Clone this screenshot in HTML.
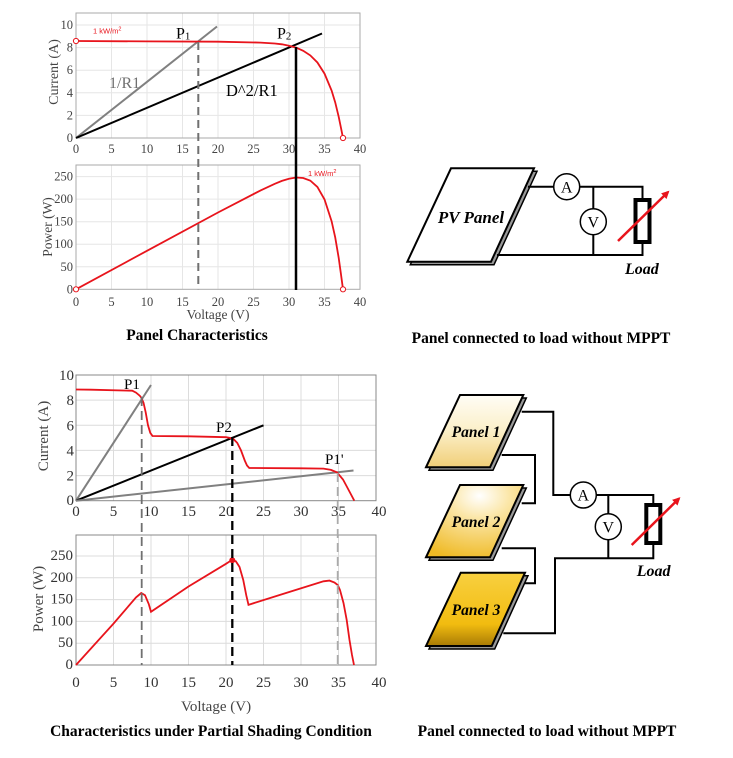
<!DOCTYPE html>
<html><head><meta charset="utf-8"><style>
html,body{margin:0;padding:0;background:#fff;}
svg{display:block;}
.t{font-family:"Liberation Serif",serif;}
</style></head><body>
<svg width="733" height="758" viewBox="0 0 733 758" xmlns="http://www.w3.org/2000/svg">
<defs>
<linearGradient id="g1" x1="0" y1="0" x2="0" y2="1"><stop offset="0" stop-color="#fffdf6"/><stop offset="0.5" stop-color="#fbefc8"/><stop offset="1" stop-color="#f1cf78"/></linearGradient>
<radialGradient id="g2" cx="0.55" cy="0.15" r="0.9"><stop offset="0" stop-color="#ffffff"/><stop offset="0.35" stop-color="#fbe6a6"/><stop offset="1" stop-color="#efba25"/></radialGradient>
<linearGradient id="g3" x1="0" y1="0" x2="0" y2="1"><stop offset="0" stop-color="#f8d040"/><stop offset="0.7" stop-color="#f2bc10"/><stop offset="1" stop-color="#a87a05"/></linearGradient>
<marker id="ah" markerWidth="8" markerHeight="8" refX="6" refY="4" orient="auto" markerUnits="userSpaceOnUse"><path d="M0,0 L8,4 L0,8 Z" fill="#e8141c"/></marker>
</defs>

<!-- ===== TOP CURRENT CHART ===== -->
<g stroke="#e6e6e6" stroke-width="1">
<path d="M111.5 13V138M147 13V138M182.5 13V138M218 13V138M253.5 13V138M289 13V138M324.5 13V138"/>
<path d="M76 115.4H360M76 92.8H360M76 70.2H360M76 47.6H360M76 25H360"/>
</g>
<rect x="76" y="13" width="284" height="125" fill="none" stroke="#aaa" stroke-width="1"/>
<g class="t" font-size="12.5" fill="#444" text-anchor="middle">
<text x="76" y="153">0</text><text x="111.5" y="153">5</text><text x="147" y="153">10</text><text x="182.5" y="153">15</text><text x="218" y="153">20</text><text x="253.5" y="153">25</text><text x="289" y="153">30</text><text x="324.5" y="153">35</text><text x="360" y="153">40</text>
</g>
<g class="t" font-size="12.5" fill="#444" text-anchor="end">
<text x="73" y="142">0</text><text x="73" y="119.4">2</text><text x="73" y="96.8">4</text><text x="73" y="74.2">6</text><text x="73" y="51.6">8</text><text x="73" y="29">10</text>
</g>
<text class="t" font-size="14" fill="#444" text-anchor="middle" transform="translate(58,72) rotate(-90)">Current (A)</text>
<line x1="76" y1="138" x2="217" y2="26.5" stroke="#808080" stroke-width="2"/>
<line x1="76" y1="138" x2="322" y2="33.5" stroke="#000" stroke-width="2"/>
<polyline fill="none" stroke="#e8141c" stroke-width="1.8" points="76,41 147,41.4 218,41.7 260.6,42.6 274.8,43.5 281.9,44.3 289,45.7 296.1,47.6 303.2,50.8 310.3,55.4 317.4,62.5 324.5,73.6 331.6,90.5 335.2,102.3 338.7,116.8 340.8,127 343,138"/>
<circle cx="76" cy="41" r="2.6" fill="#fff" stroke="#e8141c" stroke-width="1"/>
<circle cx="343" cy="138" r="2.6" fill="#fff" stroke="#e8141c" stroke-width="1"/>
<text x="93" y="33.5" font-family="Liberation Sans,sans-serif" font-size="7.5" fill="#e8141c">1 kW/m<tspan dy="-3" font-size="5.5">2</tspan></text>
<text class="t" x="176" y="38.5" font-size="16" fill="#000">P<tspan font-size="11" dy="1">1</tspan></text>
<text class="t" x="277" y="38.5" font-size="16" fill="#000">P<tspan font-size="11" dy="1">2</tspan></text>
<text class="t" x="109" y="88" font-size="16" fill="#707070">1/R1</text>
<text class="t" x="226" y="96" font-size="16.5" fill="#000">D^2/R1</text>

<!-- ===== TOP POWER CHART ===== -->
<g stroke="#e6e6e6" stroke-width="1">
<path d="M111.5 165V289.3M147 165V289.3M182.5 165V289.3M218 165V289.3M253.5 165V289.3M289 165V289.3M324.5 165V289.3"/>
<path d="M76 266.8H360M76 244.2H360M76 221.7H360M76 199.1H360M76 176.6H360"/>
</g>
<rect x="76" y="165" width="284" height="124.3" fill="none" stroke="#aaa" stroke-width="1"/>
<g class="t" font-size="12.5" fill="#444" text-anchor="middle">
<text x="76" y="306">0</text><text x="111.5" y="306">5</text><text x="147" y="306">10</text><text x="182.5" y="306">15</text><text x="218" y="306">20</text><text x="253.5" y="306">25</text><text x="289" y="306">30</text><text x="324.5" y="306">35</text><text x="360" y="306">40</text>
</g>
<g class="t" font-size="12.5" fill="#444" text-anchor="end">
<text x="73" y="293.3">0</text><text x="73" y="270.8">50</text><text x="73" y="248.2">100</text><text x="73" y="225.7">150</text><text x="73" y="203.1">200</text><text x="73" y="180.6">250</text>
</g>
<text class="t" font-size="13.5" fill="#444" text-anchor="middle" transform="translate(52,227) rotate(-90)">Power (W)</text>
<text class="t" font-size="13.5" fill="#444" text-anchor="middle" x="218" y="319">Voltage (V)</text>
<polyline fill="none" stroke="#e8141c" stroke-width="1.8" points="76,289.3 147,250.8 218,212.5 260.6,190.4 274.8,183.8 281.9,180.9 289,178.8 296.1,177.5 303.2,178 310.3,180.6 317.4,186.9 324.5,199.4 331.6,221.2 335.2,237.3 338.7,257.9 340.8,273 343,289.3"/>
<circle cx="76" cy="289.3" r="2.6" fill="#fff" stroke="#e8141c" stroke-width="1"/>
<circle cx="343" cy="289.3" r="2.6" fill="#fff" stroke="#e8141c" stroke-width="1"/>
<text x="308" y="176" font-family="Liberation Sans,sans-serif" font-size="7.5" fill="#e8141c">1 kW/m<tspan dy="-3" font-size="5.5">2</tspan></text>

<!-- verticals top -->
<line x1="198.3" y1="42" x2="198.3" y2="289.3" stroke="#707070" stroke-width="2" stroke-dasharray="8,5"/>
<line x1="296" y1="47" x2="296" y2="290" stroke="#000" stroke-width="2.5"/>

<text class="t" x="197" y="340" font-size="15.5" font-weight="bold" text-anchor="middle" fill="#000">Panel Characteristics</text>

<!-- ===== CIRCUIT 1 ===== -->
<path d="M454 171.3 L537 171.3 L494 264.7 L410.3 264.7 Z" fill="#999" stroke="#000" stroke-width="1.5"/>
<path d="M451 168.3 L534 168.3 L491 261.7 L407.3 261.7 Z" fill="#fff" stroke="#000" stroke-width="2"/>
<text class="t" x="471" y="223" font-size="17" font-weight="bold" font-style="italic" text-anchor="middle">PV Panel</text>
<g stroke="#000" stroke-width="2" fill="none">
<path d="M528 186.7 H553.7 M579.7 186.7 H642.5 V200"/>
<path d="M497 255 H642.5 V242"/>
<path d="M593.3 186.7 V208.7 M593.3 234.7 V255"/>
</g>
<circle cx="566.7" cy="186.7" r="13" fill="#fff" stroke="#000" stroke-width="1.5"/>
<circle cx="593.3" cy="221.7" r="13" fill="#fff" stroke="#000" stroke-width="1.5"/>
<text class="t" x="566.7" y="192.5" font-size="16" text-anchor="middle">A</text>
<text class="t" x="593.3" y="227.5" font-size="16" text-anchor="middle">V</text>
<rect x="635.5" y="200" width="14" height="42" fill="#fff" stroke="#000" stroke-width="4"/>
<line x1="618" y1="241" x2="668" y2="192" stroke="#e8141c" stroke-width="2.5" marker-end="url(#ah)"/>
<text class="t" x="625" y="274" font-size="16" font-weight="bold" font-style="italic">Load</text>
<text class="t" x="541" y="343" font-size="15.5" font-weight="bold" text-anchor="middle">Panel connected to load without MPPT</text>

<!-- ===== BOTTOM CURRENT CHART ===== -->
<g stroke="#dcdcdc" stroke-width="1">
<path d="M113.5 375V500.7M151 375V500.7M188.5 375V500.7M226 375V500.7M263.5 375V500.7M301 375V500.7M338.5 375V500.7"/>
<path d="M76 475.6H376M76 450.4H376M76 425.3H376M76 400.1H376"/>
</g>
<rect x="76" y="375" width="300" height="125.7" fill="none" stroke="#888" stroke-width="1"/>
<g class="t" font-size="15" fill="#333" text-anchor="middle">
<text x="76" y="516">0</text><text x="113.5" y="516">5</text><text x="151" y="516">10</text><text x="188.5" y="516">15</text><text x="226" y="516">20</text><text x="263.5" y="516">25</text><text x="301" y="516">30</text><text x="338.5" y="516">35</text><text x="379" y="516">40</text>
</g>
<g class="t" font-size="15" fill="#333" text-anchor="end">
<text x="74" y="505">0</text><text x="74" y="480.6">2</text><text x="74" y="455.4">4</text><text x="74" y="430.3">6</text><text x="74" y="405.1">8</text><text x="74" y="380">10</text>
</g>
<text class="t" font-size="15" fill="#444" text-anchor="middle" transform="translate(48,436) rotate(-90)">Current (A)</text>
<line x1="76" y1="500.7" x2="151" y2="385" stroke="#808080" stroke-width="2"/>
<line x1="76" y1="500.7" x2="263.5" y2="425.3" stroke="#000" stroke-width="2"/>
<line x1="76" y1="500.7" x2="353.5" y2="470.5" stroke="#808080" stroke-width="2"/>
<polyline fill="none" stroke="#e8141c" stroke-width="1.8" points="76,389.5 91,389.7 132.25,390.7 136,392.6 139.75,395.7 141.25,397.6 143.5,402.6 145.75,412.7 148,425.3 150.25,432.8 152.5,436 188.5,436.3 226,437.2 229.75,437.9 233.5,439.1 237.25,442.9 241,450.4 244.75,460.5 247,465.5 249.25,468 301,468.3 323.5,468.6 331,469.9 337,472.4 343,479.5 346.5,486 350.5,493.5 354.3,500.7"/>
<text class="t" x="124" y="389" font-size="15">P1</text>
<text class="t" x="216" y="432" font-size="15">P2</text>
<text class="t" x="325" y="464" font-size="15">P1'</text>

<!-- ===== BOTTOM POWER CHART ===== -->
<g stroke="#dcdcdc" stroke-width="1">
<path d="M113.5 535V665M151 535V665M188.5 535V665M226 535V665M263.5 535V665M301 535V665M338.5 535V665"/>
<path d="M76 643.2H376M76 621.4H376M76 599.6H376M76 577.8H376M76 556H376"/>
</g>
<rect x="76" y="535" width="300" height="130" fill="none" stroke="#888" stroke-width="1"/>
<g class="t" font-size="15" fill="#333" text-anchor="middle">
<text x="76" y="687">0</text><text x="113.5" y="687">5</text><text x="151" y="687">10</text><text x="188.5" y="687">15</text><text x="226" y="687">20</text><text x="263.5" y="687">25</text><text x="301" y="687">30</text><text x="338.5" y="687">35</text><text x="379" y="687">40</text>
</g>
<g class="t" font-size="15" fill="#333" text-anchor="end">
<text x="73" y="669">0</text><text x="73" y="647.2">50</text><text x="73" y="625.4">100</text><text x="73" y="603.6">150</text><text x="73" y="581.8">200</text><text x="73" y="560">250</text>
</g>
<text class="t" font-size="15" fill="#444" text-anchor="middle" transform="translate(43,599) rotate(-90)">Power (W)</text>
<text class="t" font-size="15" fill="#444" text-anchor="middle" x="216" y="711">Voltage (V)</text>
<polyline fill="none" stroke="#e8141c" stroke-width="1.8" points="76,665 113.5,623.6 136,597.4 141.25,593 145,595.2 148.75,604 151,611.8 188.5,586.5 226,563.8 231.25,560.4 235.75,561.2 239.5,566.9 243.25,580 246.25,595.2 248.5,604.8 286,593 323.5,581.3 329.5,580.6 334.5,582.5 337.7,585 340,590 343.5,603 346.7,620 349.5,640 352,655 354,665"/>
<circle cx="232.3" cy="560.3" r="3" fill="#e8141c"/>

<!-- verticals bottom -->
<line x1="141.7" y1="397" x2="141.7" y2="665" stroke="#707070" stroke-width="1.8" stroke-dasharray="9,5"/>
<line x1="232.3" y1="437" x2="232.3" y2="665" stroke="#000" stroke-width="2.3" stroke-dasharray="9,5"/>
<line x1="337.7" y1="473" x2="337.7" y2="665" stroke="#aaa" stroke-width="1.8" stroke-dasharray="9,5"/>

<text class="t" x="211" y="736" font-size="15.5" font-weight="bold" text-anchor="middle">Characteristics under Partial Shading Condition</text>

<!-- ===== CIRCUIT 2 ===== -->
<g stroke="#000" stroke-width="2" fill="none">
<path d="M521.7 411.7 H553.3 V495 H570.3 M596.3 495 H653.3 V505"/>
<path d="M608.3 495 V513.7 M608.3 539.7 V558.3"/>
<path d="M503.3 633.3 H555 V558.3 H653.3 V543"/>
<path d="M501.7 455 H535 V503.3 H521.7"/>
<path d="M501.7 548.3 H535 V583.3 H525"/>
</g>
<!-- panel 1 -->
<path d="M463 398 L526.3 398 L493 470.3 L429 470.3 Z" fill="#999" stroke="#000" stroke-width="1.5"/>
<path d="M460 395 L523.3 395 L490 467.3 L426 467.3 Z" fill="url(#g1)" stroke="#000" stroke-width="2"/>
<!-- panel 2 -->
<path d="M463 488 L526.3 488 L493 560.3 L429 560.3 Z" fill="#999" stroke="#000" stroke-width="1.5"/>
<path d="M460 485 L523.3 485 L490 557.3 L426 557.3 Z" fill="url(#g2)" stroke="#000" stroke-width="2"/>
<!-- panel 3 -->
<path d="M463.7 575.7 L528 575.7 L494.7 649 L429 649 Z" fill="#999" stroke="#000" stroke-width="1.5"/>
<path d="M460.7 572.7 L525 572.7 L491.7 646 L426 646 Z" fill="url(#g3)" stroke="#000" stroke-width="2"/>
<text class="t" x="476" y="437" font-size="15.5" font-weight="bold" font-style="italic" text-anchor="middle">Panel 1</text>
<text class="t" x="476" y="527" font-size="15.5" font-weight="bold" font-style="italic" text-anchor="middle">Panel 2</text>
<text class="t" x="476" y="615" font-size="15.5" font-weight="bold" font-style="italic" text-anchor="middle">Panel 3</text>
<circle cx="583.3" cy="495" r="13" fill="#fff" stroke="#000" stroke-width="1.5"/>
<circle cx="608.3" cy="526.7" r="13" fill="#fff" stroke="#000" stroke-width="1.5"/>
<text class="t" x="583.3" y="500.5" font-size="16" text-anchor="middle">A</text>
<text class="t" x="608.3" y="532.3" font-size="16" text-anchor="middle">V</text>
<rect x="646.3" y="505" width="14" height="38" fill="#fff" stroke="#000" stroke-width="4"/>
<line x1="631.7" y1="545" x2="679" y2="498.5" stroke="#e8141c" stroke-width="2.5" marker-end="url(#ah)"/>
<text class="t" x="636.7" y="576" font-size="16" font-weight="bold" font-style="italic">Load</text>
<text class="t" x="547" y="736" font-size="15.5" font-weight="bold" text-anchor="middle">Panel connected to load without MPPT</text>
</svg>
</body></html>
